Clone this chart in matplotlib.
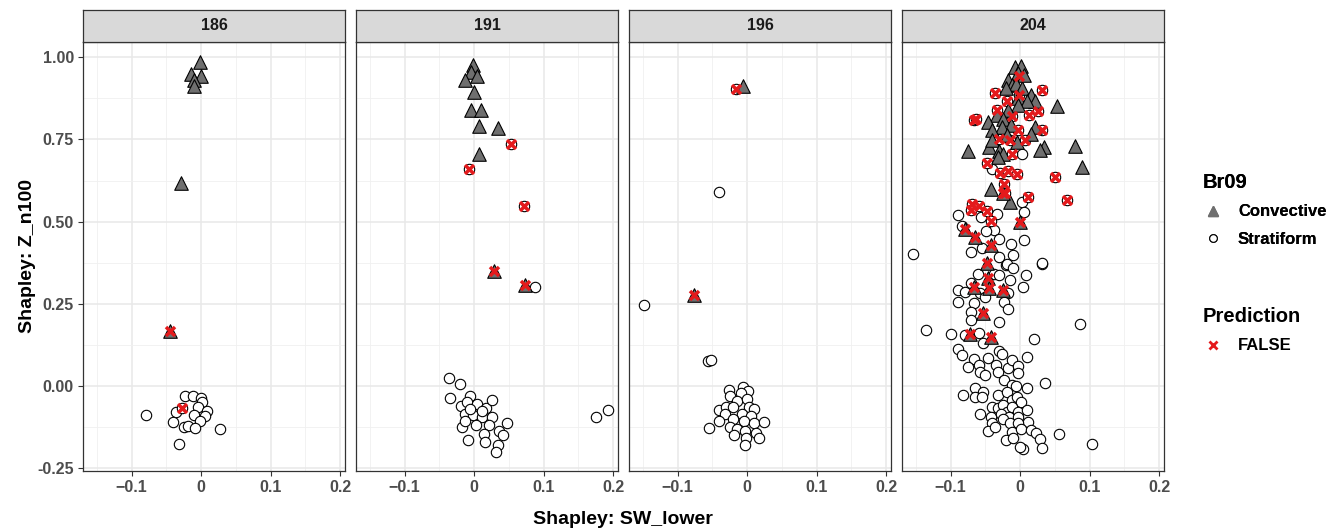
import matplotlib.pyplot as plt
from matplotlib.lines import Line2D
import numpy as np

plt.rcParams['font.family'] = ['Liberation Sans', 'DejaVu Sans']
plt.rcParams['font.weight'] = 'bold'

panels = ['186', '191', '196', '204']

# Convective (triangles), Stratiform (circles); *_false = Prediction FALSE (red x on top)
conv_186 = [(-0.0014, 0.985), (-0.014, 0.949), (0.0, 0.944), (-0.01, 0.929), (-0.01, 0.911),
            (-0.029, 0.618)]
conv_false_186 = [(-0.045, 0.167)]
strat_186 = [(-0.079, -0.089), (-0.023, -0.029), (-0.011, -0.029), (0.0, -0.036), (0.001, -0.049),
             (-0.005, -0.064), (0.008, -0.076), (-0.036, -0.079), (-0.01, -0.089), (0.005, -0.092),
             (-0.002, -0.106), (-0.04, -0.109), (-0.025, -0.123), (-0.019, -0.12), (-0.009, -0.127),
             (0.027, -0.13), (-0.032, -0.177)]
strat_false_186 = [(-0.027, -0.066)]

conv_191 = [(-0.002, 0.975), (-0.005, 0.954), (0.004, 0.944), (-0.0135, 0.931), (0.0, 0.894),
            (-0.004, 0.84), (0.0097, 0.84), (0.0077, 0.791), (0.034, 0.786), (0.0077, 0.706)]
conv_false_191 = [(0.028, 0.35), (0.0725, 0.308)]
strat_191 = [(0.0874, 0.301), (-0.036, 0.025), (-0.02, 0.007), (-0.035, -0.036), (-0.006, -0.031),
             (-0.019, -0.059), (-0.0097, -0.047), (0.004, -0.054), (0.017, -0.066), (0.025, -0.042),
             (-0.0135, -0.084), (-0.002, -0.089), (0.012, -0.094), (0.025, -0.094), (-0.017, -0.125),
             (0.0024, -0.117), (0.0217, -0.117), (0.047, -0.111), (0.036, -0.135), (0.041, -0.15),
             (0.0145, -0.147), (-0.0087, -0.163), (0.0155, -0.17), (0.034, -0.18), (0.032, -0.201),
             (0.175, -0.094), (0.192, -0.072), (-0.0135, -0.106), (0.012, -0.076), (-0.006, -0.069)]
strat_false_191 = [(0.053, 0.735), (-0.0077, 0.659), (0.0715, 0.547)]

conv_196 = [(-0.006, 0.911)]
conv_false_196 = [(-0.076, 0.276)]
strat_196 = [(-0.0405, 0.59), (-0.148, 0.248), (-0.057, 0.075), (-0.052, 0.08),
             (-0.026, -0.011), (-0.006, -0.003), (0.0014, -0.015), (-0.024, -0.029), (-0.0095, -0.021),
             (-0.014, -0.044), (0.0, -0.038), (-0.04, -0.072), (-0.031, -0.064), (-0.021, -0.062),
             (0.003, -0.062), (0.0095, -0.069), (-0.032, -0.084), (-0.007, -0.084), (0.005, -0.092),
             (-0.04, -0.106), (-0.021, -0.099), (-0.005, -0.106), (0.0095, -0.112), (0.024, -0.109),
             (-0.055, -0.127), (-0.025, -0.123), (-0.014, -0.13), (-0.003, -0.135), (0.013, -0.143),
             (-0.019, -0.15), (-0.0014, -0.157), (0.0176, -0.157), (-0.0024, -0.18)]
strat_false_196 = [(-0.0157, 0.904)]

conv_204 = [(-0.008, 0.97), (0.0014, 0.972), (-0.003, 0.952), (0.005, 0.945), (-0.017, 0.929),
            (-0.012, 0.914), (-0.006, 0.919), (-0.021, 0.907), (0.0024, 0.907), (0.016, 0.886),
            (-0.0024, 0.876), (0.021, 0.868), (0.0096, 0.868), (0.053, 0.85), (-0.003, 0.853),
            (-0.017, 0.838), (-0.034, 0.823), (-0.046, 0.802), (-0.024, 0.813), (-0.013, 0.795),
            (0.022, 0.789), (-0.026, 0.787), (-0.041, 0.777), (0.016, 0.767), (-0.019, 0.762),
            (-0.075, 0.714), (-0.045, 0.726), (-0.041, 0.747), (-0.031, 0.716), (-0.005, 0.742),
            (0.034, 0.728), (0.029, 0.718), (0.079, 0.731), (0.089, 0.666), (-0.024, 0.706),
            (-0.032, 0.696), (-0.042, 0.6), (-0.0144, 0.559)]
conv_false_204 = [(0.0, 0.498), (-0.025, 0.587), (-0.08, 0.478), (-0.065, 0.453), (-0.042, 0.428),
                  (-0.048, 0.373), (-0.046, 0.33), (-0.067, 0.302), (-0.045, 0.297), (-0.024, 0.292),
                  (-0.053, 0.221), (-0.072, 0.158), (-0.042, 0.15)]
strat_204 = [(0.0024, 0.706), (-0.041, 0.661), (0.0024, 0.559), (0.006, 0.529), (-0.089, 0.519),
             (-0.056, 0.514), (-0.034, 0.524), (-0.084, 0.488), (-0.037, 0.475), (-0.049, 0.473),
             (0.005, 0.444), (-0.031, 0.447), (-0.013, 0.433), (-0.07, 0.407), (-0.055, 0.42),
             (-0.154, 0.401), (-0.031, 0.394), (-0.0096, 0.4), (0.031, 0.372), (-0.021, 0.367),
             (-0.019, 0.371), (-0.0096, 0.358), (0.032, 0.373), (-0.061, 0.34), (-0.038, 0.342),
             (-0.03, 0.337), (-0.014, 0.324), (0.008, 0.337), (0.0048, 0.302), (-0.09, 0.292),
             (-0.079, 0.287), (-0.07, 0.312), (-0.058, 0.282), (-0.051, 0.272), (-0.017, 0.282),
             (-0.09, 0.256), (-0.067, 0.253), (-0.023, 0.256), (-0.018, 0.233), (-0.07, 0.226),
             (-0.07, 0.201), (-0.03, 0.196), (0.0856, 0.19), (-0.136, 0.17), (-0.1, 0.158),
             (-0.08, 0.155), (-0.059, 0.16), (-0.053, 0.13), (0.02, 0.144), (-0.09, 0.114),
             (-0.083, 0.094), (-0.031, 0.107), (-0.026, 0.099), (-0.046, 0.084), (-0.067, 0.081),
             (-0.059, 0.064), (-0.075, 0.057), (-0.058, 0.044), (-0.035, 0.064), (-0.032, 0.044),
             (-0.018, 0.054), (-0.012, 0.079), (-0.0024, 0.061), (-0.003, 0.041), (0.0096, 0.089),
             (-0.05, 0.033), (-0.023, 0.018), (-0.012, 0.003), (-0.006, 0.0), (0.0096, -0.005),
             (0.036, 0.011), (-0.065, -0.007), (-0.053, -0.017), (-0.082, -0.027), (-0.065, -0.034),
             (-0.055, -0.034), (-0.032, -0.027), (-0.019, -0.017), (-0.012, -0.041), (-0.0048, -0.032),
             (0.0014, -0.048), (-0.041, -0.063), (-0.032, -0.068), (-0.025, -0.058), (-0.019, -0.078),
             (-0.011, -0.063), (-0.003, -0.078), (0.0096, -0.073), (-0.058, -0.085), (-0.042, -0.093),
             (-0.027, -0.085), (-0.016, -0.093), (-0.0024, -0.093), (0.012, -0.108), (-0.041, -0.113),
             (-0.025, -0.101), (-0.014, -0.113), (-0.003, -0.111), (-0.046, -0.136), (-0.036, -0.124),
             (-0.011, -0.139), (0.0014, -0.129), (0.016, -0.134), (0.023, -0.144), (0.056, -0.146),
             (-0.021, -0.164), (-0.0096, -0.159), (0.029, -0.162), (0.0034, -0.192), (0.0, -0.185),
             (0.032, -0.189), (0.104, -0.177)]
strat_false_204 = [(-0.0014, 0.944), (-0.036, 0.891), (0.032, 0.901), (-0.0014, 0.886), (-0.019, 0.868),
                   (-0.034, 0.838), (-0.012, 0.82), (0.013, 0.823), (0.025, 0.836), (-0.067, 0.809),
                   (-0.064, 0.812), (-0.003, 0.777), (0.032, 0.777), (-0.031, 0.752), (-0.0144, 0.747),
                   (0.0072, 0.749), (-0.011, 0.706), (-0.048, 0.678), (-0.029, 0.647), (-0.017, 0.653),
                   (-0.005, 0.645), (0.0495, 0.636), (-0.0226, 0.613), (-0.0216, 0.587), (0.012, 0.576),
                   (0.067, 0.566), (-0.069, 0.554), (-0.059, 0.546), (-0.048, 0.532), (-0.042, 0.502),
                   (-0.07, 0.534)]

data = {
    '186': (conv_186, conv_false_186, strat_186, strat_false_186),
    '191': (conv_191, conv_false_191, strat_191, strat_false_191),
    '196': (conv_196, conv_false_196, strat_196, strat_false_196),
    '204': (conv_204, conv_false_204, strat_204, strat_false_204),
}

x_ticks = [-0.1, 0.0, 0.1, 0.2]
x_labels = ['\u22120.1', '0', '0.1', '0.2']
y_ticks = [-0.25, 0.0, 0.25, 0.5, 0.75, 1.0]
y_labels = ['-0.25', '0.00', '0.25', '0.50', '0.75', '1.00']

W, H = 1341, 531
fig = plt.figure(figsize=(W / 100, H / 100), dpi=100)

tri_color = '#6f6f6f'
edge_col = '#333333'
panel_lefts = [83, 356, 629, 902]
panel_w = 262
plot_top, plot_bot = 42, 471
strip_top = 10

for i, name in enumerate(panels):
    left = panel_lefts[i] / W
    ax = fig.add_axes([left, (H - plot_bot) / H, panel_w / W, (plot_bot - plot_top) / H])
    conv, conv_f, strat, strat_f = data[name]

    ax.set_xlim(-0.170, 0.207)
    ax.set_ylim(-0.258, 1.046)
    ax.set_xticks(x_ticks)
    ax.set_xticks([-0.15, -0.05, 0.05, 0.15], minor=True)
    ax.set_yticks(y_ticks)
    ax.set_yticks([-0.125, 0.125, 0.375, 0.625, 0.875], minor=True)
    ax.grid(which='major', color='#e8e8e8', linewidth=1.1)
    ax.grid(which='minor', color='#f0f0f0', linewidth=0.6)
    ax.set_axisbelow(True)
    ax.set_xticklabels(x_labels, fontsize=11.5, color='#4d4d4d', fontweight='bold')
    if i == 0:
        ax.set_yticklabels(y_labels, fontsize=11.5, color='#4d4d4d', fontweight='bold')
    else:
        ax.tick_params(axis='y', which='both', left=False, labelleft=False)
    ax.tick_params(which='major', length=3.5, width=0.8, color='#333333', pad=3)
    ax.tick_params(which='minor', length=0)
    for sp in ax.spines.values():
        sp.set_color(edge_col)
        sp.set_linewidth(0.9)

    pts_s = np.array(strat + strat_f)
    ax.scatter(pts_s[:, 0], pts_s[:, 1], s=56, marker='o', facecolor='white',
               edgecolor='black', linewidth=0.8, zorder=3)
    pts_c = np.array(conv + conv_f)
    ax.scatter(pts_c[:, 0], pts_c[:, 1], s=95, marker='^', facecolor=tri_color,
               edgecolor='black', linewidth=0.8, zorder=4)
    pts_f = np.array(conv_f + strat_f)
    ax.scatter(pts_f[:, 0], pts_f[:, 1], s=42, marker='x', color='#e41a1c',
               linewidth=2.5, zorder=5)

    # facet strip
    sax = fig.add_axes([left, (H - plot_top) / H, panel_w / W, (plot_top - strip_top) / H])
    sax.set_facecolor('#d9d9d9')
    sax.set_xticks([])
    sax.set_yticks([])
    for sp in sax.spines.values():
        sp.set_color(edge_col)
        sp.set_linewidth(0.9)
    sax.text(0.5, 0.5, name, ha='center', va='center', fontsize=11.5,
             fontweight='bold', color='#1a1a1a', transform=sax.transAxes)

fig.text(28 / W, 1 - 256 / H, 'Shapley: Z_n100', rotation=90, ha='center', va='center',
         fontsize=14, fontweight='bold', color='black')
fig.text(623 / W, 1 - 519 / H, 'Shapley: SW_lower', ha='center', va='center',
         fontsize=14, fontweight='bold', color='black')

# legends
br_handles = [
    Line2D([], [], marker='^', linestyle='none', markersize=7, markerfacecolor=tri_color,
           markeredgecolor=tri_color),
    Line2D([], [], marker='o', linestyle='none', markersize=5.5, markerfacecolor='white',
           markeredgecolor='black', markeredgewidth=0.8),
]
leg1 = fig.legend(br_handles, ['Convective', 'Stratiform'], title='Br09',
                  loc='upper left', bbox_to_anchor=(1188 / W, 1 - 158 / H),
                  frameon=False, prop={'size': 12, 'weight': 'bold'},
                  title_fontproperties={'size': 14.5, 'weight': 'bold'},
                  alignment='left', handletextpad=0.9, labelspacing=0.75, handlelength=1.2)
fig.add_artist(leg1)
pred_handles = [Line2D([], [], marker='x', linestyle='none', markersize=6, color='#e41a1c',
                       markeredgewidth=2)]
leg2 = fig.legend(pred_handles, ['FALSE'], title='Prediction',
                  loc='upper left', bbox_to_anchor=(1188 / W, 1 - 292 / H),
                  frameon=False, prop={'size': 12, 'weight': 'bold'},
                  title_fontproperties={'size': 14.5, 'weight': 'bold'},
                  alignment='left', handletextpad=0.9, labelspacing=0.75, handlelength=1.2)

fig.savefig('out.png', dpi=100)
